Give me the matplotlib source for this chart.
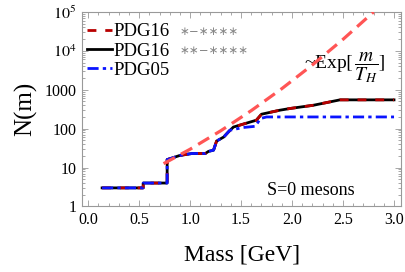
import matplotlib
matplotlib.use("Agg")
import matplotlib.pyplot as plt
from matplotlib.ticker import FixedLocator, FixedFormatter, MultipleLocator, LogLocator, NullFormatter

plt.rcParams['font.family'] = ['Liberation Serif', 'DejaVu Serif']
plt.rcParams['mathtext.fontset'] = 'stix'

# PDG16 (* and ** give the same curve at this scale)
mass_pdg16 = [0.137, 0.54, 0.54, 0.775, 0.775, 0.90, 1.02, 1.15, 1.18, 1.23, 1.26, 1.33,
              1.375, 1.425, 1.65, 1.70, 1.88, 1.98, 2.21, 2.47, 3.0]
n_pdg16 = [3, 3, 4, 4, 16, 20.5, 23, 23, 26, 28, 48, 61,
           82, 110, 165, 235, 298, 330, 400, 550, 550]

# PDG05
mass_pdg05 = [0.137, 0.54, 0.54, 0.775, 0.775, 0.90, 1.02, 1.15, 1.18, 1.23, 1.26, 1.33,
              1.375, 1.39, 1.52, 1.64, 1.69, 1.75, 3.0]
n_pdg05 = [3, 3, 4, 4, 16, 20.5, 23, 23, 26, 28, 48, 61,
           82, 91, 107, 115, 182, 200, 200]

# Hagedorn exponential
mass_exp = [0.74, 1.0, 1.3, 1.6, 1.9, 2.2, 2.5, 2.8]
n_exp = [12.6, 29.6, 88, 291, 1069, 4365, 19800, 100000]

ytick_vals = [1, 10, 100, 1000, 1e4, 1e5]
ytick_labels = ["1", "10", "100", "1000", r"$10^4$", r"$10^5$"]
xtick_vals = [0.0, 0.5, 1.0, 1.5, 2.0, 2.5, 3.0]

fig = plt.figure(figsize=(4.05, 2.72), dpi=100)
ax = fig.add_axes([0.2025, 0.241, 0.788, 0.715])

l1, = ax.plot(mass_pdg16, n_pdg16, color="black", lw=2.0, zorder=2)
l2, = ax.plot(mass_pdg16, n_pdg16, color="#b80000", lw=2.0, dashes=(3.2, 3.2), zorder=3)
l3, = ax.plot(mass_pdg05, n_pdg05, color="#0a14ff", lw=2.0, dashes=(4, 1.5, 1.2, 1.5), zorder=4)
ax.plot(mass_exp, n_exp, color="#ff5555", lw=2.3, dashes=(4, 2.2), zorder=5)

ax.set_yscale("log")
ax.set_xlim(-0.06, 3.07)
ax.set_ylim(1, 1e5)

ax.yaxis.set_major_locator(FixedLocator(ytick_vals))
ax.yaxis.set_major_formatter(FixedFormatter(ytick_labels))
ax.yaxis.set_minor_locator(LogLocator(base=10, subs=range(2, 10), numticks=20))
ax.yaxis.set_minor_formatter(NullFormatter())
ax.xaxis.set_major_locator(FixedLocator(xtick_vals))
ax.xaxis.set_minor_locator(MultipleLocator(0.1))
ax.set_xticklabels(["%.1f" % v for v in xtick_vals])

ax.tick_params(which="both", direction="in", top=True, right=True, color="#999999",
               labelsize=11.5, width=0.6)
ax.tick_params(which="major", length=4.5, pad=4)
ax.tick_params(which="minor", length=2.5)
for s in ax.spines.values():
    s.set_color("#999999")
    s.set_linewidth(0.8)

ax.set_xlabel("Mass [GeV]", fontsize=17, labelpad=12)
ax.set_ylabel("N(m)", fontsize=18, labelpad=5)

leg = ax.legend([l2, l1, l3], ["PDG16", "PDG16", "PDG05"], loc="upper left",
                bbox_to_anchor=(-0.03, 1.02), frameon=False, fontsize=13.5,
                handlelength=1.3, handletextpad=0.1, labelspacing=0.12, borderpad=0.3)
ax.text(0.305, 0.898, "∗−∗∗∗∗", transform=ax.transAxes, color="#888888",
        fontsize=8.5, va="center", family=['DejaVu Sans'])
ax.text(0.305, 0.802, "∗∗−∗∗∗∗", transform=ax.transAxes, color="#888888",
        fontsize=8.5, va="center", family=['DejaVu Sans'])

ax.text(0.695, 0.715, r"~Exp$[\,\dfrac{m}{T_H}]$", transform=ax.transAxes,
        fontsize=14, va="center")
ax.text(0.58, 0.08, "S=0 mesons", transform=ax.transAxes, fontsize=13, va="center")

fig.savefig("out.png", dpi=100)
